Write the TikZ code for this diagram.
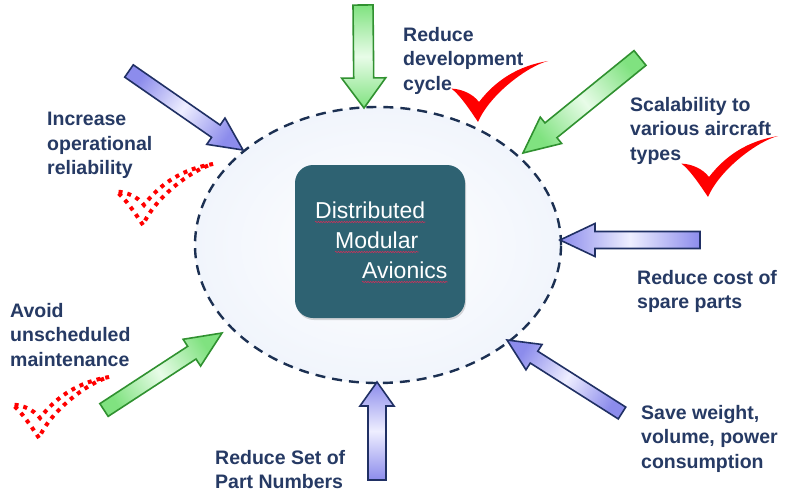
\documentclass[tikz,border=0pt]{standalone}
\usepackage{fontspec}
\setmainfont{Liberation Sans}
\usepackage {tikz}
\usetikzlibrary {calc,shapes.geometric,shadows,decorations.pathmorphing}

\definecolor{labelnavy}{RGB}{38,58,100}
\definecolor{dashnavy}{RGB}{28,48,82}
\definecolor{hubfill}{RGB}{241,245,252}
\definecolor{coreteal}{RGB}{46,98,114}
\definecolor{arrowline}{RGB}{32,48,100}
\definecolor{arrowend}{RGB}{140,140,236}
\definecolor{arrowmid}{RGB}{238,238,255}
\definecolor{greenline}{RGB}{48,145,48}
\definecolor{greenend}{RGB}{128,226,128}
\definecolor{greenmid}{RGB}{232,252,232}
\definecolor{checkred}{RGB}{255,0,0}
\definecolor{squigred}{RGB}{200,50,90}

\begin{document}
\begin{tikzpicture}[x=1pt, y=-1pt,
    arrow shaft/.store in=\arshaft, arrow head/.store in=\arhead, arrow len/.store in=\arlen,
    arrow shaft=8pt, arrow head=16pt, arrow len=33pt,
    block arrow/.style={to path={
      ($(\tikztostart)!\arshaft!90:(\tikztotarget)$)
      -- ($($(\tikztotarget)!\arlen!(\tikztostart)$)!\arshaft!-90:(\tikztostart)$)
      -- ($($(\tikztotarget)!\arlen!(\tikztostart)$)!\arhead!-90:(\tikztostart)$)
      -- (\tikztotarget)
      -- ($($(\tikztotarget)!\arlen!(\tikztostart)$)!\arhead!90:(\tikztostart)$)
      -- ($($(\tikztotarget)!\arlen!(\tikztostart)$)!\arshaft!90:(\tikztostart)$)
      -- ($(\tikztostart)!\arshaft!-90:(\tikztotarget)$)
      -- cycle}},
    blue arrow/.style={block arrow, draw=arrowline, line width=1.6pt,
      left color=arrowend, right color=arrowend, middle color=arrowmid},
    green arrow/.style={block arrow, draw=greenline, line width=1.6pt,
      left color=greenend, right color=greenend, middle color=greenmid},
    hub/.style={ellipse, draw=dashnavy, line width=2.4pt, dash pattern=on 10pt off 7pt,
      minimum width=366pt, minimum height=276pt, inner color=white, outer color=hubfill},
    core box/.style={rectangle, rounded corners=18pt, fill=coreteal,
      minimum width=170pt, minimum height=153pt,
      drop shadow={shadow xshift=1pt, shadow yshift=-2pt, opacity=.3}},
    core text/.style={anchor=base west, inner sep=0pt, text=white,
      font=\fontsize{23}{30}\selectfont},
    squiggle/.style={draw=squigred, line width=.6pt, decorate,
      decoration={snake, amplitude=.7pt, segment length=2.6pt}},
    label node/.style={anchor=north west, inner sep=0pt, align=left, text=labelnavy,
      font=\bfseries\fontsize{19.5}{24.5}\selectfont},
    dotted check/.style={draw=checkred, line width=4pt, dash pattern=on 4pt off 5pt},
    check mark/.pic={
      \path[pic actions] (0,0) .. controls (-8,-12) and (-18,-27) .. (-26.6,-33.4)
        .. controls (-16,-33) and (-5,-28) .. (1,-20)
        .. controls (18,-42) and (40,-56) .. (70,-61)
        .. controls (50,-56) and (12,-28) .. (0,0) -- cycle;}]

  \fill[white] (0,0) rectangle (789,492);
  \useasboundingbox (0,0) rectangle (789,492);

  \node[hub] (hub) at (378,245) {};
  \node[core box] (core) at (380,241.5) {};
  \node[core text] (dist) at (315,218) {Distributed};
  \node[core text] (modu) at (335,248) {Modular};
  \node[core text] (avio) at (362,278) {Avionics};
  \draw[squiggle] ([yshift=-4pt]dist.base west) -- ([yshift=-4pt]dist.base east);
  \draw[squiggle] ([yshift=-4pt]modu.base west) -- ([yshift=-4pt]modu.base east);
  \draw[squiggle] ([yshift=-4pt]avio.base west) -- ([yshift=-4pt]avio.base east);

  \coordinate (t1) at (363,5);    \coordinate (h1) at (364,108);
  \coordinate (t2) at (640,58);   \coordinate (h2) at (523,153);
  \coordinate (t3) at (129,71);   \coordinate (h3) at (243,150);
  \coordinate (t4) at (700,240);  \coordinate (h4) at (560,240);
  \coordinate (t5) at (622,413);  \coordinate (h5) at (507,340);
  \coordinate (t6) at (377,480);  \coordinate (h6) at (377,382);
  \coordinate (t7) at (104,410);  \coordinate (h7) at (222,333);

  \draw[green arrow, shading angle=0, arrow shaft=10pt, arrow head=22pt, arrow len=30pt] (t1) to (h1);
  \draw[green arrow, shading angle=129, arrow shaft=9.5pt, arrow head=17pt, arrow len=36pt] (t2) to (h2);
  \draw[blue arrow, shading angle=55, arrow shaft=7.5pt, arrow head=16pt, arrow len=33pt] (t3) to (h3);
  \draw[blue arrow, shading angle=90, arrow shaft=8.5pt, arrow head=16.5pt, arrow len=35pt] (t4) to (h4);
  \draw[blue arrow, shading angle=58, arrow shaft=7pt, arrow head=15pt, arrow len=32pt] (t5) to (h5);
  \draw[blue arrow, shading angle=0, arrow shaft=9pt, arrow head=17pt, arrow len=24pt] (t6) to (h6);
  \draw[green arrow, shading angle=123, arrow shaft=7.6pt, arrow head=16pt, arrow len=36pt] (t7) to (h7);

  \node[label node] (reliab) at (47,112) {Increase\\operational\\reliability};
  \node[label node] (devcyc) at (403,27) {Reduce\\development\\cycle};
  \node[label node] (scal) at (630,97) {Scalability to\\various aircraft\\types};
  \node[label node] (spares) at (637,270) {Reduce cost of\\spare parts};
  \node[label node] (weight) at (641,405) {Save weight,\\volume, power\\consumption};
  \node[label node] (partno) at (215,450) {Reduce Set of\\Part Numbers};
  \node[label node] (maint) at (10,303) {Avoid\\unscheduled\\maintenance};

  \pic[fill=checkred] at (478,122) {check mark};
  \pic[fill=checkred] at (708,197) {check mark};
  \pic[dotted check] at (143,225) {check mark};
  \pic[dotted check] at (39,438) {check mark};
\end{tikzpicture}
\end{document}
